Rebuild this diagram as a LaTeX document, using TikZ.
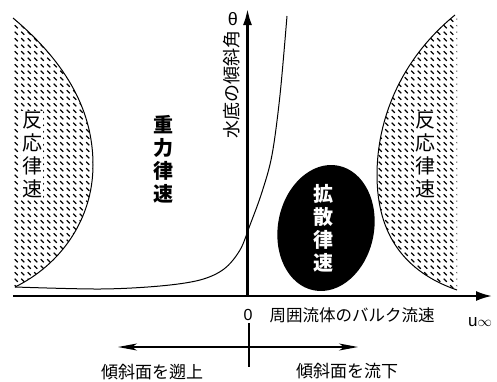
\documentclass[tikz,border=0pt]{standalone}
\usepackage{fontspec}
\setmainfont{Liberation Sans}
\newfontfamily\jp{Noto Sans CJK JP}
\usetikzlibrary{arrows.meta,patterns,shapes.geometric}
\pgfdeclarepatternformonly{plate}{\pgfpoint{-1pt}{-1pt}}{\pgfpoint{7.5pt}{7.5pt}}{\pgfpoint{6.5pt}{6.5pt}}{%
  \pgfsetlinewidth{1.1pt}%
  \pgfpathmoveto{\pgfpoint{1.7pt}{4.8pt}}\pgfpathlineto{\pgfpoint{4.8pt}{1.7pt}}%
  \pgfusepath{stroke}}
\begin{document}
\begin{tikzpicture}[x=1pt,y=-1pt,
  axisline/.style={line width=2.2pt},
  curveline/.style={line width=1pt},
  thinarrow/.style={line width=1.1pt,-{Stealth[length=19pt,width=7pt,inset=5pt]}},
  vlab/.style={font=\jp\fontsize{20}{23}\selectfont, align=center, inner sep=1pt},
  vlabb/.style={font=\jp\bfseries\fontsize{20}{23}\selectfont, align=center, inner sep=1pt},
  jtxt/.style={font=\jp\fontsize{17}{17}\selectfont, inner sep=0pt}]
\useasboundingbox (0,0) rectangle (497,381);
% hatched regions
\fill[pattern=plate] (13,18) .. controls (75,70) and (93,120) .. (93,165)
  .. controls (93,220) and (60,265) .. (15,287) -- (13,287) -- cycle;
\draw[curveline] (13,18) .. controls (75,70) and (93,120) .. (93,165)
  .. controls (93,220) and (60,265) .. (15,287);
\fill[pattern=plate] (455,15) .. controls (400,60) and (377,120) .. (377,175)
  .. controls (377,235) and (405,272) .. (457,290) -- (457,15) -- cycle;
\draw[curveline] (455,15) .. controls (400,60) and (377,120) .. (377,175)
  .. controls (377,235) and (405,272) .. (457,290);
% main curve
\draw[curveline] plot[smooth, tension=0.55] coordinates {(15,287) (100,289) (160,286) (200,280) (224,269) (240,250) (250,225) (262,192) (272,155) (280,95) (287,16)};
% ellipse
\node[ellipse, fill=black, minimum width=96pt, minimum height=127pt, rotate=-11, inner sep=0pt] (diff) at (326,228) {};
\node[vlabb, text=white] (difft) at (323,228) {拡\\散\\律\\速};
% region labels
\node[vlab, fill=white] (reactL) at (32,155) {反\\応\\律\\速};
\node[vlab, fill=white] (reactR) at (425,155) {反\\応\\律\\速};
\node[vlabb] (grav) at (163,159) {重\\力\\律\\速};
% axes
\coordinate (o) at (247.5,296);
\coordinate (ytip) at (247.5,9);
\coordinate (xl) at (13,296);
\coordinate (xtip) at (492,296);
\draw[axisline,-{Latex[length=16pt,width=9pt]}] (o) -- (ytip);
\draw[axisline,-{Latex[length=16pt,width=10pt]}] (xl) -- (xtip);
\node[font=\fontsize{18}{18}\selectfont, inner sep=0pt] (th) at (233,19) {θ};
\node[jtxt, rotate=90, font=\jp\fontsize{18}{18}\selectfont] (ylab) at (232,84) {水底の傾斜角};
\node[font=\fontsize{16}{16}\selectfont, inner sep=0pt] (zero) at (248,315) {0};
\node[jtxt, font=\jp\fontsize{16.5}{16.5}\selectfont] (xlab) at (352,315) {周囲流体のバルク流速};
\node[font=\fontsize{17}{17}\selectfont, inner sep=0pt] (uinf) at (480,322) {u{\fontsize{15}{15}\selectfont$\infty$}};
% lower direction arrows
\coordinate (tt) at (249,323);
\coordinate (tb) at (249,367);
\coordinate (t0) at (249,347);
\coordinate (tl) at (118,347);
\coordinate (tr) at (358,347);
\draw[line width=1.1pt] (tt) -- (tb);
\draw[thinarrow] (t0) -- (tl);
\draw[thinarrow] (t0) -- (tr);
\node[jtxt] (up) at (152,372) {傾斜面を遡上};
\node[jtxt] (down) at (347,371) {傾斜面を流下};
\end{tikzpicture}
\end{document}
